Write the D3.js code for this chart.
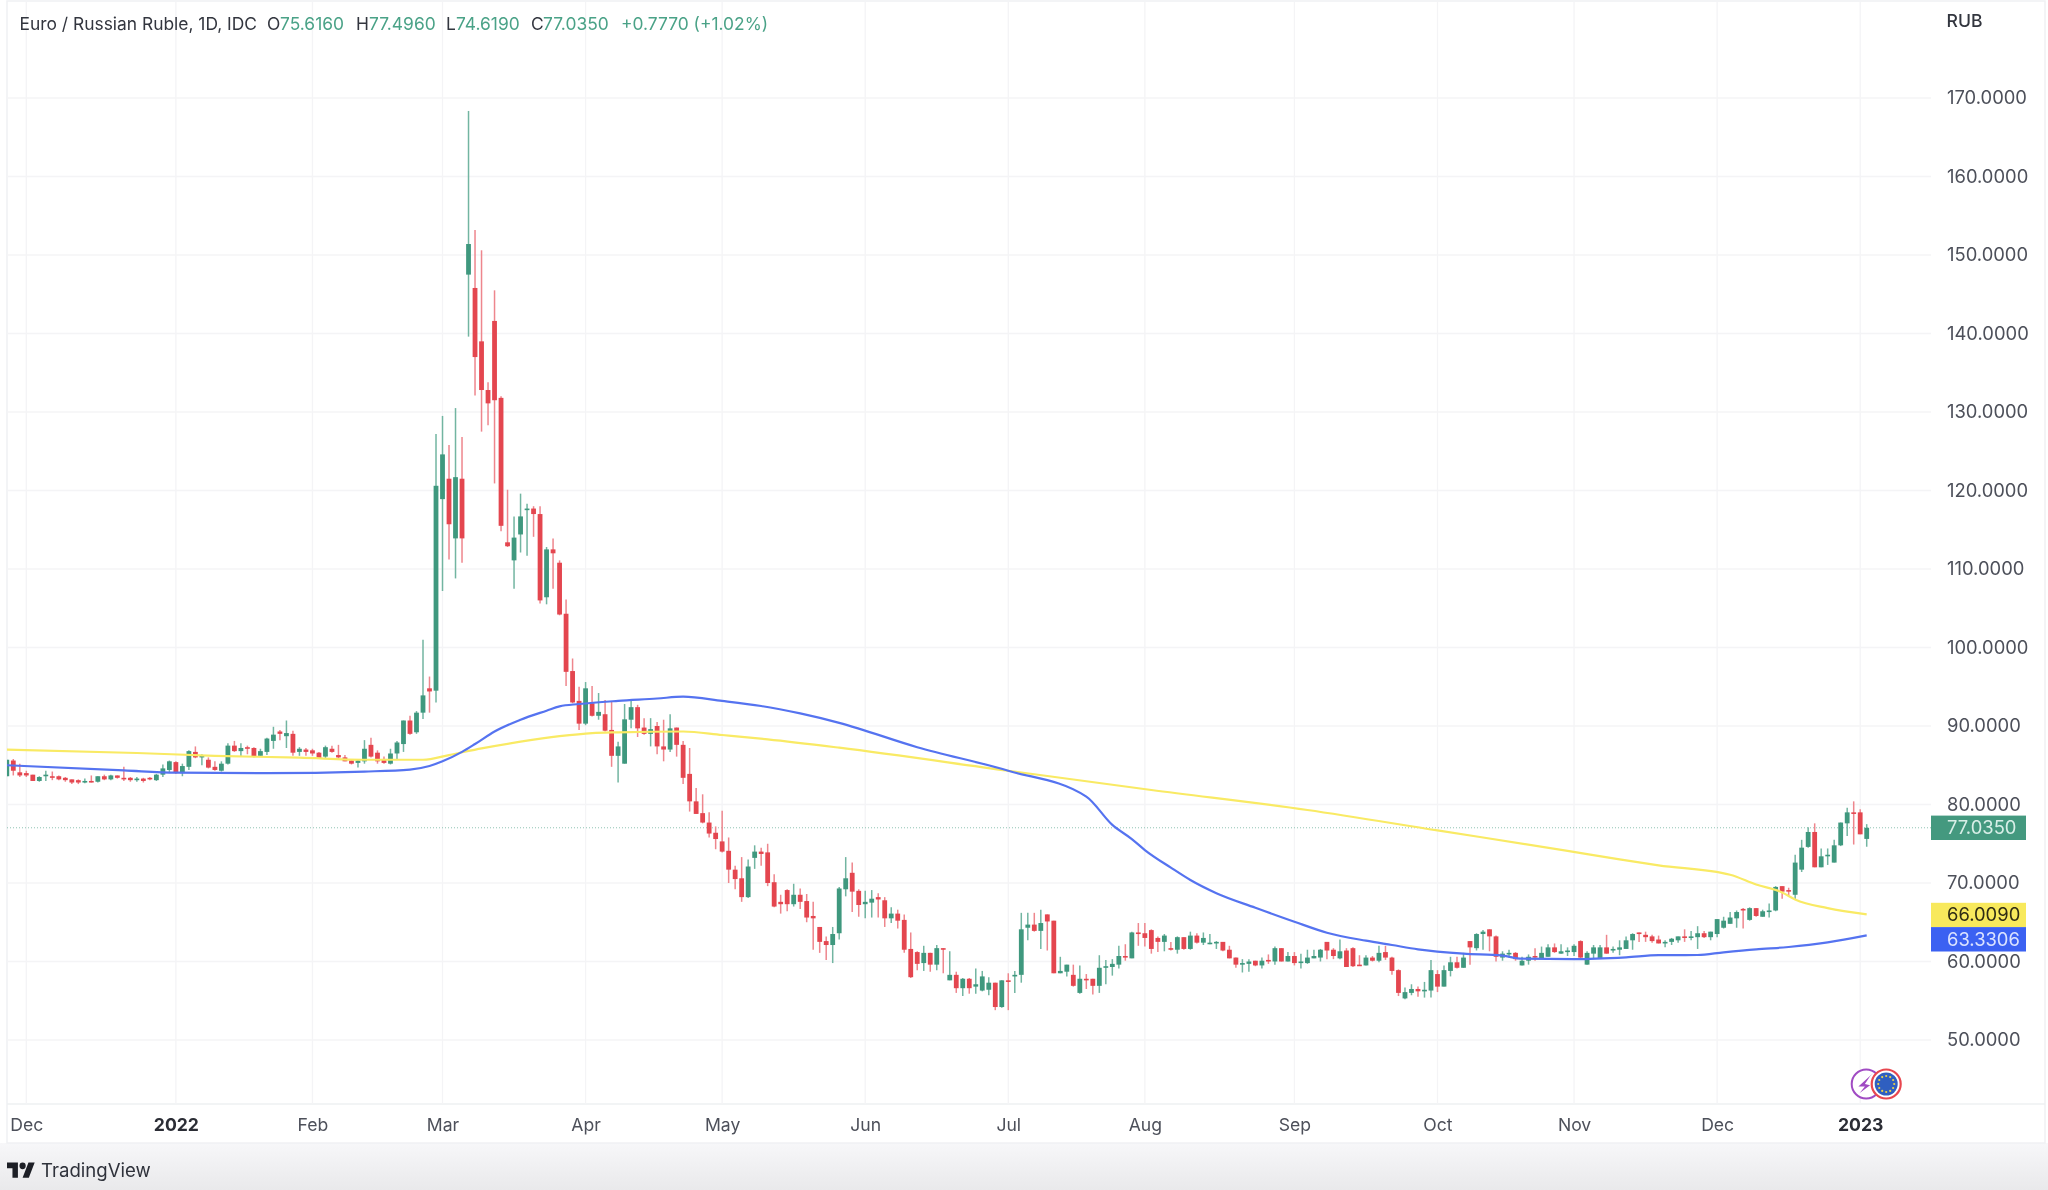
<!DOCTYPE html>
<html><head><meta charset="utf-8">
<script src="https://cdn.jsdelivr.net/npm/d3@7/dist/d3.min.js"></script>
<style>
html,body{margin:0;padding:0;background:#fff;overflow:hidden}
svg{display:block;filter:blur(.5px)}
text{font-family:Inter,"Noto Sans",sans-serif}
</style></head><body>
<svg id="c" width="2048" height="1190"></svg>
<script>
const title = "Euro / Russian Ruble, 1D, IDC";
const ohlcLabels = ["O","H","L","C"];
const ohlcValues = ["75.6160","77.4960","74.6190","77.0350"];
const changeLabel = "+0.7770 (+1.02%)";
const currency = "RUB";
const priceTicks = [50,60,70,80,90,100,110,120,130,140,150,160,170];
const timeTickIndex = [3,26,47,67,89,110,132,154,175,198,220,241,263,285];
const timeTickLabels = ["Dec","2022","Feb","Mar","Apr","May","Jun","Jul","Aug","Sep","Oct","Nov","Dec","2023"];
const boldTicks = ["2022","2023"];
const opens = [
83.6,85.6,84.1,84.0,83.8,83.0,83.6,83.6,83.6,83.4,
83.2,83.1,82.9,83.0,82.9,83.6,83.2,83.7,83.4,83.4,
83.2,83.3,83.4,83.1,83.8,84.4,85.4,84.0,84.8,86.7,
86.0,85.7,84.8,84.3,85.2,87.5,86.8,87.3,87.2,86.2,
86.7,88.1,89.3,88.7,89.0,86.7,87.0,86.9,86.6,86.1,
87.1,86.3,86.0,85.6,85.3,85.5,87.6,86.6,85.8,85.2,
86.5,87.7,90.7,89.2,91.7,94.8,94.5,118.9,121.5,113.9,
121.5,147.5,145.8,139.0,132.8,141.6,131.8,113.4,111.1,114.4,
117.6,117.7,117.0,106.4,112.5,110.8,104.3,97.0,93.2,90.3,
92.9,91.3,91.5,89.5,86.2,85.2,90.8,92.4,89.8,89.0,
90.0,87.4,87.0,89.8,87.6,83.9,80.4,78.9,77.7,76.4,
75.3,74.1,71.7,70.6,68.2,73.2,74.0,73.9,70.1,67.6,
69.1,67.3,68.5,67.7,65.8,64.4,62.6,62.1,63.6,69.2,
71.3,69.0,67.3,67.5,68.2,67.8,65.5,66.1,65.3,61.6,
61.2,59.8,61.1,59.6,61.7,57.6,58.3,56.6,57.8,56.8,
56.3,56.4,57.3,54.2,57.6,58.2,58.3,64.3,64.7,63.9,
66.0,65.2,58.5,58.7,58.3,56.0,57.8,57.8,56.9,59.2,
59.3,59.6,60.7,60.4,63.7,63.6,64.0,63.0,62.5,61.7,
61.5,63.1,61.6,63.3,62.4,62.3,62.4,62.5,61.5,60.5,
59.7,59.7,60.1,59.5,60.2,60.0,61.7,60.0,60.7,59.9,
59.8,60.4,60.5,62.5,61.5,60.4,61.4,61.7,59.6,59.5,
60.5,60.1,61.2,60.5,58.9,55.3,56.0,56.5,56.3,56.3,
58.4,56.8,58.8,59.9,59.2,62.6,61.7,63.5,64.1,63.2,
60.5,60.9,61.1,59.5,60.1,60.7,60.4,60.6,61.8,61.0,
61.3,61.2,62.6,59.6,61.0,60.4,61.8,61.4,61.5,61.6,
62.7,63.7,63.4,63.2,62.8,62.3,62.5,62.7,63.2,63.0,
63.1,63.6,63.1,63.5,64.3,64.8,65.5,66.7,65.3,66.8,
65.7,66.4,66.5,69.6,69.1,68.5,71.7,74.6,76.5,72.0,
73.4,72.6,74.8,77.6,79.0,79.0,75.616];
const closes = [
85.7,84.3,83.7,83.7,83.0,83.5,83.8,83.5,83.2,83.1,
82.8,82.8,83.0,82.9,83.6,83.2,83.7,83.4,83.2,83.1,
83.3,83.0,83.2,83.8,84.6,85.5,84.0,84.9,86.8,86.0,
86.2,84.7,84.4,85.2,87.5,86.8,87.2,87.1,86.1,86.8,
88.4,88.9,89.0,89.1,86.6,87.1,86.7,86.5,85.9,87.3,
86.7,86.0,85.5,85.2,85.6,87.1,86.1,85.5,85.3,86.5,
87.9,90.7,89.0,91.7,93.9,94.4,120.6,124.6,115.7,121.7,
113.9,151.4,137.0,132.8,131.1,131.5,115.5,112.9,114.0,116.7,
117.7,117.0,106.0,112.5,112.0,104.2,96.9,93.0,90.3,94.8,
91.3,91.8,89.4,86.2,87.4,90.85,92.4,89.7,89.0,89.6,
87.4,87.0,89.7,87.6,83.4,80.4,78.8,77.7,76.3,75.6,
74.0,71.7,70.5,68.2,72.1,74.0,73.7,70.0,67.0,67.3,
67.3,68.5,67.6,65.6,65.5,62.5,62.1,63.5,69.3,70.6,
68.9,67.2,67.6,68.0,67.9,65.5,66.1,65.2,61.5,58.0,
59.7,61.1,59.6,61.7,61.6,58.3,56.6,57.8,56.6,57.1,
58.1,57.3,54.2,57.6,57.5,58.3,64.1,64.7,63.9,64.9,
65.1,58.5,58.8,59.6,56.9,57.8,57.6,56.9,59.2,59.4,
59.7,60.7,60.5,63.7,63.5,63.0,61.6,62.5,63.3,61.5,
63.1,61.6,63.3,62.4,63.0,62.4,62.5,61.4,60.4,59.6,
59.8,60.0,59.5,60.1,60.0,61.7,60.0,60.7,59.8,60.0,
60.5,60.7,61.5,61.4,60.7,61.3,59.3,59.4,59.5,60.5,
60.1,61.1,60.5,58.8,56.0,56.1,56.5,56.2,56.4,58.9,
56.8,58.9,59.9,59.2,60.5,61.8,63.5,63.8,63.2,60.6,
61.0,61.1,60.3,60.1,60.6,60.6,61.1,61.8,61.2,61.3,
61.4,62.0,60.5,61.1,61.8,61.8,61.0,61.6,61.8,62.7,
63.5,63.6,63.1,62.6,62.3,62.5,62.9,63.2,63.1,63.2,
63.6,63.1,63.8,65.4,65.2,65.6,66.3,66.6,66.8,65.8,
66.4,66.5,69.5,68.9,68.9,72.6,74.5,76.5,72.0,73.4,
73.6,74.8,77.7,79.0,78.9,76.2,77.035];
const highs = [
85.7,85.8,85.2,84.3,83.8,83.6,84.3,84.2,83.7,83.5,
83.2,83.2,83.3,83.7,83.6,83.8,83.8,83.7,84.8,83.5,
83.5,83.4,83.5,83.9,85.1,85.6,85.5,85.2,86.9,87.4,
86.4,86.0,85.5,85.5,87.8,88.1,87.8,87.5,87.3,87.1,
88.5,89.9,89.5,90.7,89.4,87.3,87.2,87.1,86.7,87.5,
87.5,87.6,86.3,85.7,85.8,88.2,88.5,86.9,86.1,87.1,
88.1,90.7,91.3,91.9,101.0,96.3,127.2,129.5,125.8,130.5,
126.8,168.35,153.2,150.6,133.8,145.5,132.0,120.1,116.7,119.6,
118.3,118.0,118.0,112.8,113.9,111.1,106.1,98.6,95.0,95.6,
95.1,94.2,93.3,93.1,88.0,92.8,93.3,92.7,91.0,91.0,
90.5,90.8,91.5,89.8,88.1,87.2,82.1,81.3,79.0,77.2,
79.2,75.8,72.2,73.3,73.0,74.8,74.5,75.0,71.1,68.5,
69.2,69.9,69.3,68.6,67.6,64.4,63.2,64.4,69.5,73.3,
72.6,69.2,69.0,69.1,68.7,68.2,66.9,66.6,66.0,63.7,
61.3,62.0,61.1,62.1,61.7,61.3,58.7,57.9,57.9,59.1,
58.8,58.0,57.3,57.6,58.5,58.8,66.2,66.2,66.2,66.6,
66.0,65.2,60.6,59.6,59.6,59.5,58.4,57.8,60.8,60.2,
60.3,62.0,62.2,63.8,64.9,64.9,64.1,63.2,63.5,62.5,
63.2,63.1,63.8,63.6,63.7,63.5,62.6,62.5,62.0,60.5,
60.3,60.3,60.1,60.5,60.9,61.9,61.7,61.2,61.2,61.0,
61.5,61.5,61.6,62.5,61.7,62.8,61.7,61.8,60.8,60.8,
60.7,62.0,62.0,60.6,59.0,56.7,57.1,56.8,57.4,60.2,
58.9,59.5,60.6,60.6,61.1,62.6,63.6,64.0,64.1,63.3,
61.3,61.5,61.2,60.6,60.9,61.7,61.9,62.2,62.3,62.2,
61.8,62.2,62.7,61.3,62.1,62.1,63.4,61.9,62.7,63.2,
63.6,63.7,63.8,63.4,63.3,62.7,63.0,63.2,64.1,63.9,
64.5,63.9,63.8,65.4,65.7,66.3,66.5,66.8,66.9,66.8,
66.6,67.4,69.6,69.6,69.4,73.6,75.5,77.1,77.6,74.4,
74.4,75.5,77.7,79.6,80.4,79.4,77.496];
const lows = [
83.6,83.7,83.5,83.5,83.0,82.9,83.0,83.1,83.1,82.9,
82.6,82.6,82.7,82.8,82.8,83.1,83.1,83.3,83.0,82.9,
82.9,82.8,83.1,83.0,83.5,84.0,83.9,83.6,84.4,85.9,
85.0,84.6,84.3,84.2,85.1,86.7,86.1,86.4,86.0,86.1,
86.3,87.1,88.2,87.2,86.2,86.2,86.2,86.2,85.8,85.9,
86.6,85.8,85.5,85.1,84.7,85.2,86.0,85.2,85.2,85.1,
85.7,86.7,88.9,89.0,90.9,91.7,93.0,107.2,111.2,108.8,
110.8,139.6,132.1,127.5,128.3,120.9,114.8,112.8,107.5,112.1,
111.7,114.1,105.6,105.5,107.5,104.1,95.1,92.9,89.5,90.1,
91.2,90.8,89.3,84.8,82.8,85.2,89.7,88.6,88.9,87.4,
86.4,85.5,86.7,86.1,82.6,79.1,78.8,77.6,75.8,74.3,
73.9,70.0,69.2,67.6,68.1,71.8,72.2,69.6,66.9,66.1,
66.4,67.0,66.7,65.0,61.5,61.1,60.2,59.8,62.8,68.3,
66.3,65.7,65.5,65.6,65.6,64.4,64.9,64.2,61.1,57.9,
58.9,58.8,58.7,58.9,58.5,57.6,56.0,55.6,55.9,55.9,
56.2,55.7,53.8,54.1,53.8,56.0,57.3,62.7,63.8,61.6,
61.4,58.5,58.5,58.1,56.8,55.9,56.5,55.8,56.0,57.1,
58.2,59.1,60.1,60.4,62.0,61.9,61.0,61.2,61.3,61.4,
61.0,61.5,61.5,62.3,62.1,62.2,61.6,61.3,60.4,59.2,
58.6,58.7,59.4,59.1,59.7,59.6,60.0,60.0,59.5,59.1,
59.7,60.4,60.0,60.3,60.3,60.3,59.3,59.3,59.5,59.5,
60.0,59.9,60.2,58.3,55.6,55.2,55.7,55.5,55.4,55.4,
56.1,56.8,58.1,59.1,59.2,59.6,61.4,61.5,61.3,60.0,
60.1,60.5,60.1,59.5,59.6,60.1,60.4,60.6,61.1,61.0,
60.7,60.7,60.2,59.6,60.3,60.4,61.0,61.1,60.8,61.6,
61.5,62.5,62.5,62.4,62.3,61.8,62.1,62.4,62.5,62.7,
61.6,63.0,62.7,63.1,64.2,64.8,64.3,64.2,65.2,65.7,
65.7,65.6,66.4,68.0,68.3,67.9,71.4,74.5,72.0,72.0,
72.3,72.6,74.7,76.0,74.9,76.2,74.619];
const blueIndex = [0,18,26,40,55,62,65,67,70,72,75,79,83,85,88,94,100,104,110,116,122,128,140,154,166,170,173,175,179,182,186,192,198,203,209,213,217,224,230,233,241,249,254,260,264,269,274,280,286];
const blueValues = [85.0,84.35,84.05,84.0,84.2,84.45,84.9,85.5,86.7,87.7,89.3,90.8,91.95,92.5,92.8,93.2,93.5,93.74,93.2,92.55,91.6,90.4,87.3,84.3,81.0,77.4,75.6,74.2,71.96,70.38,68.7,66.85,65.07,63.67,62.65,62.1,61.55,61.0,60.75,60.36,60.3,60.53,60.8,60.83,61.17,61.55,61.85,62.44,63.33];
const yellowIndex = [0,20,32,45,55,64,68,73,79,85,90,94,104,110,117,128,154,176,200,220,240,248,254,265,269,273,275,280,286];
const yellowValues = [87.0,86.56,86.2,85.97,85.7,85.7,86.3,87.15,88.0,88.7,89.1,89.2,89.3,88.85,88.3,87.24,84.3,81.85,79.3,76.7,74.1,73.0,72.25,71.05,69.8,68.8,67.9,66.8,66.009];
const lastLabels = [["77.0350","#44997f","#d9efe8",77.035],["66.0090","#f8e95c","#2f2c14",66.009],["63.3306","#3b61f2","#dbe3ff",63.3306]];

const W=2048,H=1190,L=7,R=1931,T=2,B=1104,AXR=2045,AXB=1143;
const svg=d3.select("#c");
const x=d3.scaleLinear().domain([0,286]).range([6.8,1866.7]);
const y=d3.scaleLinear().domain([60,170]).range([961.5,98]);

const defs=svg.append("defs");
const grad=defs.append("linearGradient").attr("id","foot").attr("x1",0).attr("x2",0).attr("y1",0).attr("y2",1);
grad.append("stop").attr("offset",0).attr("stop-color","#f7f7f9");
grad.append("stop").attr("offset",1).attr("stop-color","#e9e9eb");
defs.append("clipPath").attr("id","plot").append("rect").attr("x",L).attr("y",T).attr("width",R-L).attr("height",B-T);

svg.append("rect").attr("width",W).attr("height",H).attr("fill","#fff");
svg.append("rect").attr("x",0).attr("y",AXB).attr("width",W).attr("height",H-AXB).attr("fill","url(#foot)");
svg.append("rect").attr("x",L).attr("y",1).attr("width",AXR-L).attr("height",AXB-1).attr("fill","#fff").attr("stroke","#f0f1f3").attr("stroke-width",1.5);
svg.append("line").attr("x1",L).attr("x2",AXR).attr("y1",B).attr("y2",B).attr("stroke","#eef0f2").attr("stroke-width",1.5);

// grid
const grid=svg.append("g");
grid.selectAll(".v").data(timeTickIndex).join("line").attr("x1",d=>x(d)).attr("x2",d=>x(d)).attr("y1",T).attr("y2",B).attr("stroke","#f4f4f6").attr("stroke-width",1.3);
grid.selectAll(".h").data(priceTicks).join("line").attr("x1",L).attr("x2",R).attr("y1",d=>y(d)).attr("y2",d=>y(d)).attr("stroke","#f4f4f6").attr("stroke-width",1.3);

// axes
const ya=svg.append("g").attr("transform",`translate(${R},0)`).call(d3.axisRight(y).tickValues(priceTicks).tickSize(0).tickPadding(16).tickFormat(d3.format(".4f")));
ya.select(".domain").remove();
ya.selectAll("text").attr("font-size",18.4).attr("fill","#4d505a").attr("dy","0.3em");
const xa=svg.append("g").attr("transform",`translate(0,${B})`).call(d3.axisBottom(x).tickValues(timeTickIndex).tickSize(0).tickPadding(15).tickFormat((d,i)=>timeTickLabels[i]));
xa.select(".domain").remove();
xa.selectAll("text").attr("font-size",17.6).attr("fill",(d,i)=>boldTicks.includes(timeTickLabels[i])?"#2b2d35":"#4d505a").attr("font-weight",(d,i)=>boldTicks.includes(timeTickLabels[i])?700:400);

// last-price dotted line
svg.append("line").attr("x1",L).attr("x2",R).attr("y1",y(closes[closes.length-1])).attr("y2",y(closes[closes.length-1])).attr("stroke","#8fc4b3").attr("stroke-width",1).attr("stroke-dasharray","1 2");

// candles
const data=opens.map((o,i)=>({i,o,h:highs[i],l:lows[i],c:closes[i]}));
const g=svg.append("g").attr("clip-path","url(#plot)");
const up="#3f987e",dn="#e4464f",upW="#72b5a1",dnW="#ee868d";
g.selectAll(".w").data(data).join("line").attr("x1",d=>x(d.i)).attr("x2",d=>x(d.i)).attr("y1",d=>y(d.h)).attr("y2",d=>y(d.l)).attr("stroke",d=>d.c>=d.o?upW:dnW).attr("stroke-width",1.5);
g.selectAll(".b").data(data).join("rect").attr("x",d=>x(d.i)-2.4).attr("width",4.8).attr("y",d=>y(Math.max(d.o,d.c))).attr("height",d=>Math.max(1.6,Math.abs(y(d.o)-y(d.c)))).attr("fill",d=>d.c>=d.o?up:dn);

// moving averages
const line=d3.line().x(d=>x(d[0])).y(d=>y(d[1])).curve(d3.curveMonotoneX);
g.append("path").attr("d",line(yellowIndex.map((v,i)=>[v,yellowValues[i]]))).attr("fill","none").attr("stroke","#f9ea64").attr("stroke-width",2.2);
g.append("path").attr("d",line(blueIndex.map((v,i)=>[v,blueValues[i]]))).attr("fill","none").attr("stroke","#5573f0").attr("stroke-width",2.2);

// price labels
const lblY=[827.8,915,939.3];
lastLabels.forEach((l,i)=>{
  svg.append("rect").attr("x",R).attr("y",lblY[i]-12.2).attr("width",95).attr("height",24.4).attr("fill",l[1]);
  svg.append("text").attr("x",R+16).attr("y",lblY[i]).attr("dy",".35em").attr("font-size",18.4).attr("fill",l[2]).text(l[0]);
});

// header
const head=svg.append("g").attr("font-size",17.4).attr("fill","#33363f");
head.append("text").attr("x",19.5).attr("y",29.8).text(title);
const green="#4aa287";
const hx=[267,356,446,531], vx=[280,369,456,543];
ohlcLabels.forEach((k,i)=>{
  head.append("text").attr("x",hx[i]).attr("y",29.8).text(k);
  head.append("text").attr("x",vx[i]).attr("y",29.8).attr("fill",green).text(ohlcValues[i]);
});
head.append("text").attr("x",621).attr("y",29.8).attr("fill",green).text(changeLabel);
svg.append("text").attr("x",1946.5).attr("y",26.5).attr("font-size",17.6).attr("font-weight",500).attr("fill","#33363f").text(currency);

// logos
const lx=x(timeTickIndex[13])+6,ly=1084;
svg.append("circle").attr("cx",lx).attr("cy",ly).attr("r",14.5).attr("fill","#fff").attr("stroke","#a04bc3").attr("stroke-width",2);
svg.append("path").attr("transform",`translate(${lx},${ly}) scale(1.3)`).attr("d","M5-8 L-6 2 L-1 2 L-5 7 L3 1 L-1 0 L3-6Z").attr("fill","#a04bc3");
const ex=lx+20;
svg.append("circle").attr("cx",ex).attr("cy",ly).attr("r",14.5).attr("fill","#fff").attr("stroke","#e8474f").attr("stroke-width",2.2);
svg.append("circle").attr("cx",ex).attr("cy",ly).attr("r",11.5).attr("fill","#2f5fc0");
svg.selectAll(".star").data(d3.range(12)).join("circle").attr("cx",d=>ex+8*Math.cos(d*Math.PI/6)).attr("cy",d=>ly+8*Math.sin(d*Math.PI/6)).attr("r",1.1).attr("fill","#e9d34a");

// TradingView footer
const tv=svg.append("g").attr("transform","translate(7,1159) scale(0.78,0.85)").attr("fill","#1d1f26");
tv.append("path").attr("d","M14 22H7V11H0V4h14v18zM28 22h-8l7.5-18h8L28 22z");
tv.append("circle").attr("cx",20).attr("cy",8).attr("r",4);
svg.append("text").attr("x",41).attr("y",1176.5).attr("font-size",18.6).attr("fill","#2f323b").text("TradingView");
</script></body></html>
